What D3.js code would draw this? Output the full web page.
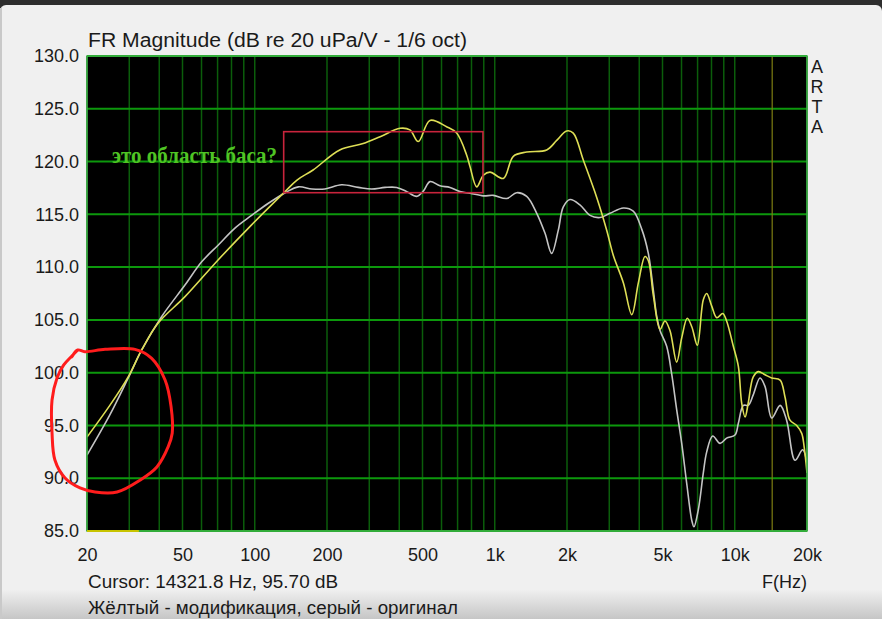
<!DOCTYPE html>
<html><head><meta charset="utf-8">
<script src="https://cdn.jsdelivr.net/npm/d3@7"></script>
<style>body{margin:0;background:#fff;} svg{display:block}</style>
</head><body>
<svg id="c" width="882" height="625"></svg>
<script>
// ---- data ----
const yellowFreq = [20,24.9,29.7,33.8,39.6,51.2,70.5,97,133,150,175,226,283,333,403,443,480,537,630,694,764,789,841,896,955,1086,1195,1359,1646,1812,1994,2124,2338,2660,2927,3120,3436,3724,3966,4227,4366,4580,4882,5118,5370,5728,6012,6340,6622,6982,7396,7642,8018,8414,8912,9248,9864,10352,10692,11042,11378,11940,12532,13366,14256,15454,16192,16984,18114,19012,19454,20000];
const yellowDb   = [93.9,96.9,99.6,102.15,104.7,107.2,110.7,114.0,117.1,118.25,119.2,121.1,121.7,122.35,123.15,123.0,121.9,123.9,123.3,122.7,120.6,119.5,117.6,118.7,119.0,118.4,120.5,120.9,121.1,122.0,122.9,122.7,120.15,116.6,113.5,111.1,108.5,105.5,108.5,111.0,110.6,107.3,104.1,104.9,104.0,101.0,103.3,105.15,104.35,102.6,106.9,107.5,106.3,105.2,105.6,104.9,102.5,100.6,97.1,95.8,97.1,99.6,100.1,99.8,99.5,99.3,97.7,95.5,95.0,94.25,93.0,90.5];
const grayFreq = [20,24.9,29.7,33.8,40.9,51.2,60.1,70.5,82.7,97,114,134,152,173,196,230,270,307,349,390,430,473,504,537,591,651,716,789,896,986,1122,1234,1359,1496,1620,1726,1840,1930,2058,2264,2494,2746,3020,3436,3776,4096,4364,4580,4732,4882,5204,5458,5728,6012,6308,6622,6762,7048,7396,7642,8094,8682,9248,10024,10352,10858,11378,11940,12736,13366,14256,15454,16444,17826,19188,20000];
const grayDb   = [92.2,96.0,99.5,102.15,105.3,108.3,110.5,112.1,113.7,114.9,116.05,117.05,117.6,117.4,117.4,117.8,117.55,117.4,117.55,117.55,117.15,116.7,117.2,118.1,117.7,117.55,117.15,117.0,116.75,116.8,116.5,117.05,116.7,115.1,113.2,111.3,113.5,115.7,116.4,115.9,114.9,114.7,115.1,115.6,115.3,113.6,111.3,107.8,105.3,104.0,102.5,99.9,96.5,93.3,89.5,86.0,85.4,87.0,90.5,92.5,94.0,93.3,93.8,94.1,95.2,96.9,96.9,97.9,99.5,98.7,95.7,96.9,95.5,91.7,92.7,91.4];
const yTicks = [85,90,95,100,105,110,115,120,125,130];
const xTickValues = [20,50,100,200,500,1000,2000,5000,10000,20000];
const xTickLabels = ["20","50","100","200","500","1k","2k","5k","10k","20k"];
const cursorFreq = 14321.8, cursorDb = 95.70;
const titleText = "FR Magnitude (dB re 20 uPa/V - 1/6 oct)";
const legendText = "Жёлтый - модификация, серый - оригинал";
const noteText = "это область баса?";
const noteBoxFreq = [132, 893], noteBoxDb = [117.05, 122.83];
const circleFreq = [17.3,18.3,19.6,23.8,31.7,37.2,42.3,44.8,45.3,43.6,39.1,33.3,26.7,21.6,18.7,16.2,14.7,14.3,14.3,15.0,16.0,17.3,18.3];
const circleDb   = [101.5,102.15,101.99,102.21,102.21,101.36,99.31,96.78,94.26,92.99,91.07,89.83,88.70,88.70,89.08,90.02,91.73,94.29,97.41,99.5,100.73,101.58,102.15];
const markerFreq = [20, 32.9];

// ---- layout ----
const svg = d3.select("#c");
const L=87, R=807, T=56, B=531;
const x = d3.scaleLog().domain([20,20000]).range([L,R]);
const y = d3.scaleLinear().domain([85,130]).range([B,T]);
const font = "'Liberation Sans', Arial, sans-serif";

// background
const defs = svg.append("defs");
const g1 = defs.append("linearGradient").attr("id","bot").attr("x1",0).attr("x2",0).attr("y1",0).attr("y2",1);
g1.append("stop").attr("offset","0").attr("stop-color","#efefef");
g1.append("stop").attr("offset","1").attr("stop-color","#c6c6c6");
svg.append("rect").attr("width",882).attr("height",625).attr("fill","#ffffff");
svg.append("rect").attr("x",0).attr("y",0).attr("width",882).attr("height",14).attr("fill","#2e2e2e");
svg.append("rect").attr("x",0).attr("y",5).attr("width",882).attr("height",590).attr("rx",6).attr("fill","#f0f0f0");
svg.append("rect").attr("x",0).attr("y",590).attr("width",882).attr("height",29).attr("fill","url(#bot)");
svg.append("rect").attr("x",0).attr("y",8).attr("width",2).attr("height",611).attr("fill","#c9c9c9");

defs.append("clipPath").attr("id","clip").append("rect").attr("x",L).attr("y",T).attr("width",R-L).attr("height",B-T);

// plot area
svg.append("rect").attr("x",L).attr("y",T).attr("width",R-L).attr("height",B-T).attr("fill","#000");

const grid = svg.append("g");
grid.selectAll("line.v").data(x.ticks()).join("line")
  .attr("x1",d=>x(d)).attr("x2",d=>x(d)).attr("y1",T).attr("y2",B)
  .attr("stroke","#0b5d0b").attr("stroke-width",1.5);
grid.selectAll("line.h").data(yTicks).join("line")
  .attr("x1",L).attr("x2",R).attr("y1",d=>y(d)).attr("y2",d=>y(d))
  .attr("stroke","#0c980c").attr("stroke-width",2);

// cursor line
svg.append("line").attr("x1",x(cursorFreq)).attr("x2",x(cursorFreq)).attr("y1",T).attr("y2",B)
  .attr("stroke","#7e7e12").attr("stroke-width",1.2);

const line = d3.line().x(d=>x(d[0])).y(d=>y(d[1])).curve(d3.curveCatmullRom.alpha(0.5));
const plot = svg.append("g").attr("clip-path","url(#clip)");
plot.append("path").datum(grayFreq.map((f,i)=>[f,grayDb[i]])).attr("d",line)
  .attr("fill","none").attr("stroke","#c4c4c4").attr("stroke-width",1.6);
plot.append("path").datum(yellowFreq.map((f,i)=>[f,yellowDb[i]])).attr("d",line)
  .attr("fill","none").attr("stroke","#dede55").attr("stroke-width",1.6);

// border
svg.append("rect").attr("x",L).attr("y",T).attr("width",R-L).attr("height",B-T)
  .attr("fill","none").attr("stroke","#3fb34a").attr("stroke-width",1.5);
// marker segment at bottom
svg.append("line").attr("x1",x(markerFreq[0])).attr("x2",x(markerFreq[1])).attr("y1",y(85)).attr("y2",y(85))
  .attr("stroke","#c8c400").attr("stroke-width",2);

// axes
const yAxis = svg.append("g").attr("transform",`translate(${L},0)`)
  .call(d3.axisLeft(y).tickValues(yTicks).tickFormat(d=>d.toFixed(1)).tickSize(0).tickPadding(8));
const xAxis = svg.append("g").attr("transform",`translate(0,${B})`)
  .call(d3.axisBottom(x).tickValues(xTickValues).tickFormat((d,i)=>xTickLabels[i]).tickSize(0).tickPadding(17));
[yAxis,xAxis].forEach(a=>{
  a.select(".domain").remove();
  a.selectAll("text").attr("font-family",font).attr("font-size",18).attr("fill","#1a1a1a");
});

// texts
svg.append("text").attr("x",88).attr("y",47).text(titleText)
  .attr("font-family",font).attr("font-size",20).attr("fill","#1a1a1a")
  .attr("textLength",379).attr("lengthAdjust","spacingAndGlyphs");
svg.append("text").attr("x",88).attr("y",588).text(`Cursor: ${cursorFreq} Hz, ${cursorDb.toFixed(2)} dB`)
  .attr("font-family",font).attr("font-size",18).attr("fill","#1a1a1a")
  .attr("textLength",250).attr("lengthAdjust","spacingAndGlyphs");
svg.append("text").attr("x",88).attr("y",614).text(legendText)
  .attr("font-family",font).attr("font-size",18).attr("fill","#1a1a1a")
  .attr("textLength",370).attr("lengthAdjust","spacingAndGlyphs");
svg.append("text").attr("x",807).attr("y",588).attr("text-anchor","end").text("F(Hz)")
  .attr("font-family",font).attr("font-size",18).attr("fill","#1a1a1a");
svg.append("g").selectAll("text").data(["A","R","T","A"]).join("text")
  .attr("x",817).attr("y",(d,i)=>73+i*20).attr("text-anchor","middle").text(d=>d)
  .attr("font-family",font).attr("font-size",18).attr("fill","#1a1a1a");

// annotations
svg.append("rect").attr("x",x(noteBoxFreq[0])).attr("y",y(noteBoxDb[1]))
  .attr("width",x(noteBoxFreq[1])-x(noteBoxFreq[0])).attr("height",y(noteBoxDb[0])-y(noteBoxDb[1]))
  .attr("fill","none").attr("stroke","#c8243c").attr("stroke-width",1.6);
svg.append("text").attr("x",112).attr("y",163).text(noteText)
  .attr("font-family","'Liberation Serif','DejaVu Serif',serif").attr("font-weight","bold")
  .attr("font-size",23).attr("fill","#4fc424")
  .attr("textLength",165).attr("lengthAdjust","spacingAndGlyphs");
svg.append("path").datum(circleFreq.map((f,i)=>[f,circleDb[i]]))
  .attr("d",d3.line().x(d=>x(d[0])).y(d=>y(d[1])).curve(d3.curveCatmullRom.alpha(0.5)))
  .attr("fill","none").attr("stroke","#ff1c1c").attr("stroke-width",3).attr("stroke-linecap","round");
</script>
</body></html>
